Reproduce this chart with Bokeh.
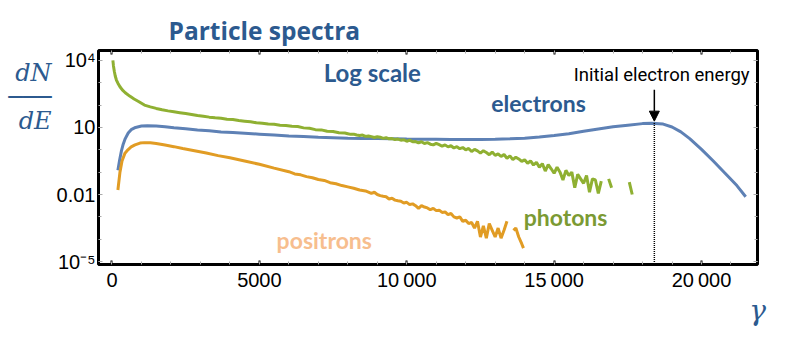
import math
from bokeh.plotting import figure
from bokeh.models import (Range1d, FixedTicker, CustomJSTickFormatter, Label, Arrow,
                          NormalHead, LinearAxis, LogAxis)
from bokeh.embed import file_html
from bokeh.resources import INLINE

NaN = float("nan")

# ---------------- data (log10 of dN/dE) ----------------
electron_gamma = [200, 260, 320, 380, 450, 550, 650, 800, 1000, 1200,
                  1500, 1800, 2100, 2500, 2900, 3300, 3700, 4100, 4500, 5000,
                  5500, 6000, 6500, 7000, 7500, 8000, 8500, 9000, 9500, 10000,
                  10500, 11000, 11500, 12000, 12500, 13000, 13500, 14000, 14500, 15000,
                  15500, 16000, 16500, 17000, 17500, 18000, 18300, 18700, 19000, 19300,
                  19600, 20000, 20400, 20800, 21200, 21500]
electron_log10 = [-0.92, -0.45, -0.05, 0.25, 0.5, 0.75, 0.9, 1.0, 1.06, 1.08,
                  1.06, 1.03, 0.99, 0.94, 0.89, 0.85, 0.8, 0.77, 0.74, 0.7,
                  0.66, 0.62, 0.59, 0.56, 0.54, 0.52, 0.51, 0.5, 0.49, 0.48,
                  0.475, 0.47, 0.465, 0.46, 0.465, 0.47, 0.49, 0.52, 0.57, 0.64,
                  0.72, 0.83, 0.93, 1.03, 1.1, 1.17, 1.19, 1.15, 1.02, 0.8,
                  0.5, 0.02, -0.5, -1.05, -1.6, -2.1]

photon_gamma = [30, 50, 80, 110, 150, 200, 270, 350, 450, 600,
                750, 900, 1100, 1300, 1500, 1700, 1900, 2100, 2300, 2500,
                2700, 2900, 3100, 3300, 3500, 3700, 3900, 4100, 4300, 4500,
                4700, 4900, 5100, 5300, 5500, 5700, 5900, 6100, 6300, 6500,
                6700, 6900, 7100, 7300, 7500, 7700, 7900,
                8000, 8100, 8200, 8300, 8400, 8500, 8600, 8700, 8800, 8900,
                9000, 9100, 9200, 9300, 9400, 9500, 9600, 9700, 9800, 9900,
                10000, 10100, 10200, 10300, 10400, 10500, 10600, 10700, 10800, 10900,
                11000, 11100, 11200, 11300, 11400, 11500, 11600, 11700, 11800, 11900,
                12000, 12100, 12200, 12300, 12400, 12500, 12600, 12700, 12800, 12900,
                13000, 13100, 13200, 13300, 13400, 13500, 13600, 13700, 13800, 13900,
                14000, 14100, 14200, 14300, 14400, 14500, 14600, 14700, 14800, 14900,
                15000, 15100, 15200, 15300, 15400, 15500, 15600, 15700, 15800, 15900,
                16000, 16100, 16200, 16300, 16400, 16500, 16600,
                16700, 16850, 16950, 17050, 17550, 17650]
photon_log10 = [4.0, 3.75, 3.5, 3.3, 3.12, 2.98, 2.82, 2.68, 2.55, 2.4,
                2.27, 2.16, 2.0, 1.92, 1.85, 1.79, 1.74, 1.7, 1.66, 1.62,
                1.58, 1.53, 1.5, 1.46, 1.43, 1.41, 1.37, 1.35, 1.31, 1.28,
                1.25, 1.21, 1.19, 1.15, 1.14, 1.1, 1.09, 1.05, 1.04, 0.98,
                0.96, 0.9, 0.89, 0.83, 0.82, 0.76, 0.75,
                0.72, 0.69, 0.70, 0.66, 0.64, 0.66, 0.60, 0.62, 0.59, 0.55,
                0.58, 0.56, 0.51, 0.54, 0.49, 0.50, 0.46, 0.48, 0.43, 0.45,
                0.38, 0.43, 0.36, 0.37, 0.31, 0.36, 0.28, 0.32, 0.25, 0.22,
                0.29, 0.23, 0.16, 0.22, 0.13, 0.18, 0.08, 0.14, 0.05, 0.10,
                0.0, 0.06, -0.08, 0.02, -0.05, -0.15, -0.04, -0.12, -0.22, -0.10,
                -0.25, -0.18, -0.30, -0.21, -0.38, -0.27, -0.44, -0.33, -0.41, -0.52,
                -0.45, -0.60, -0.50, -0.68, -0.56, -0.78, -0.62, -0.95, -0.66, -0.85,
                -1.05, -0.78, -1.0, -1.35, -0.92, -1.15, -1.0, -1.7, -1.1, -1.3,
                -1.5, -1.15, -1.9, -1.3, -1.35, -1.95, -1.4,
                NaN, -1.3, -1.7, NaN, -1.45, -2.0]

positron_gamma = [200, 270, 340, 440, 540, 650, 780, 950, 1100, 1300,
                  1500, 1800, 2100, 2400, 2800, 3200, 3600, 4000, 4500, 5000,
                  5500, 6000, 6200, 6400, 6600, 6800, 7000, 7200, 7400, 7600,
                  7800, 8000, 8200, 8400, 8600, 8800, 8900, 9000, 9100, 9200,
                  9300, 9400, 9500, 9600, 9700, 9800, 9900, 10000, 10100, 10200,
                  10300, 10400, 10500, 10600, 10700, 10800, 10900, 11000, 11100, 11200,
                  11300, 11400, 11500, 11600, 11700, 11800, 11900, 12000, 12100, 12200,
                  12300, 12400, 12500, 12600, 12700, 12800, 12900, 13000, 13100, 13200,
                  13300, 13400, 13500, 13620, 13700, 13800, 13900, 13960]
positron_log10 = [-1.8, -1.0, -0.5, -0.15, 0.0, 0.13, 0.22, 0.3, 0.32, 0.31,
                  0.28, 0.21, 0.14, 0.06, -0.04, -0.14, -0.26, -0.36, -0.5, -0.65,
                  -0.82, -0.98, -1.08, -1.12, -1.2, -1.25, -1.33, -1.37, -1.47, -1.52,
                  -1.6, -1.66, -1.72, -1.8, -1.84, -1.95, -1.9, -2.0, -2.05, -2.08,
                  -2.1, -2.2, -2.17, -2.25, -2.28, -2.3, -2.38, -2.35, -2.45, -2.42,
                  -2.5, -2.62, -2.5, -2.56, -2.6, -2.68, -2.62, -2.72, -2.7, -2.8,
                  -2.78, -2.9, -2.85, -3.0, -3.05, -3.0, -3.2, -3.15, -3.3, -3.25,
                  -3.5, -3.2, -3.9, -3.4, -3.95, -3.3, -3.6, -3.9, -3.5, -3.95,
                  -3.6, -3.2, NaN, -3.6, -3.5, -3.9, -4.2, -4.4]

initial_energy = 18400          # gamma of the initial electron energy marker
arrow_from_to = [10 ** 2.68, 10 ** 1.28]

x_ticks = [0, 5000, 10000, 15000, 20000]
x_tick_labels = ["0", "5000", "10\u2009000", "15\u2009000", "20\u2009000"]
x_minor = list(range(0, 22000, 1000))
y_ticks = [1e-5, 1e-2, 10, 1e4]
y_tick_labels = ["10\u207b\u2075", "0.01", "10", "10\u2074"]
y_minor = [10.0 ** k for k in range(-5, 5)]

BLUE = "#5E81B5"
ORANGE = "#E19C24"
GREEN = "#8FB032"
TXT_BLUE = "#2C5A8F"

def pw(vals):
    return [10 ** v for v in vals]

p = figure(width=781, height=329, output_backend="svg", toolbar_location=None,
           y_axis_type="log",
           x_range=Range1d(-458, 21900), y_range=Range1d(10 ** -5.13, 10 ** 4.44),
           min_border_left=98, min_border_right=24, min_border_top=50, min_border_bottom=60)
p.outline_line_color = "black"
p.outline_line_width = 3
p.outline_line_alpha = 1
p.xgrid.visible = False
p.ygrid.visible = False
p.background_fill_color = "white"
p.border_fill_color = "white"

# title
p.title.text = "Particle spectra"
p.title.align = "left"
p.title.offset = 70
p.title.text_font = "Open Sans"
p.title.text_font_style = "bold"
p.title.text_font_size = "24.5px"
p.title.text_color = TXT_BLUE
p.title.standoff = 8

xfmt = CustomJSTickFormatter(args=dict(xvals=x_ticks, xlabs=x_tick_labels), code="""
const i = xvals.indexOf(Math.round(tick)); return i >= 0 ? xlabs[i] : "";""")
yfmt = CustomJSTickFormatter(args=dict(yexps=[round(math.log10(t)) for t in y_ticks],
                                       ylabs=y_tick_labels), code="""
const i = yexps.indexOf(Math.round(Math.log10(tick))); return i >= 0 ? ylabs[i] : "";""")

def style_axis(ax, show_labels):
    ax.axis_line_color = None
    ax.major_tick_out = 0
    ax.major_tick_in = 4
    ax.minor_tick_out = 0
    ax.minor_tick_in = 3
    ax.major_tick_line_color = "black"
    ax.major_tick_line_width = 2
    ax.minor_tick_line_color = "#aaaaaa"
    ax.minor_tick_line_width = 1
    ax.major_label_text_font = "Liberation Sans"
    ax.major_label_text_font_size = "20px"
    ax.major_label_text_color = "black"
    if not show_labels:
        ax.major_label_text_alpha = 0
        ax.major_label_text_font_size = "1px"

xa = p.xaxis[0]
xa.ticker = FixedTicker(ticks=x_ticks, minor_ticks=x_minor)
xa.formatter = xfmt
style_axis(xa, True)
xa.major_label_standoff = 4
# gamma symbol at the right end below the axis
xa.axis_label = "\u03b3"
xa.axis_label_text_font = "DejaVu Serif"
xa.axis_label_text_font_style = "italic"
xa.axis_label_text_font_size = "28px"
xa.axis_label_text_color = TXT_BLUE
xa.axis_label_standoff = 0
try:
    xa.axis_label_text_line_height = 0.9
    xa.axis_label_align = "end"
except Exception:
    pass

ya = p.yaxis[0]
ya.ticker = FixedTicker(ticks=y_ticks, minor_ticks=y_minor)
ya.formatter = yfmt
style_axis(ya, True)
ya.major_label_standoff = 3
ya.major_tick_line_color = "#aaaaaa"
ya.major_tick_line_width = 1
# dN/dE as a horizontal, stacked axis title (blank lines shift it upwards)
ya.axis_label = "dN\n\u2500\u2500\u2500\ndE\n \n \n \n \n "
ya.axis_label_text_font = "DejaVu Serif"
ya.axis_label_text_font_style = "italic"
ya.axis_label_text_font_size = "24px"
ya.axis_label_text_color = TXT_BLUE
ya.axis_label_standoff = 2
try:
    ya.axis_label_text_line_height = 0.86
    ya.axis_label_orientation = "horizontal"
    ya.axis_label_align = "center"
except Exception:
    pass

top = LinearAxis(ticker=FixedTicker(ticks=x_ticks, minor_ticks=x_minor))
style_axis(top, False)
p.add_layout(top, "above")
right = LogAxis(ticker=FixedTicker(ticks=y_ticks, minor_ticks=y_minor))
style_axis(right, False)
right.major_tick_line_color = "#aaaaaa"
right.major_tick_line_width = 1
p.add_layout(right, "right")

p.line(electron_gamma, pw(electron_log10), line_color=BLUE, line_width=3)
p.line(positron_gamma, pw(positron_log10), line_color=ORANGE, line_width=3)
p.line(photon_gamma, pw(photon_log10), line_color=GREEN, line_width=3)

# initial electron energy marker
p.segment(x0=[initial_energy], y0=[10 ** 1.2], x1=[initial_energy], y1=[10 ** -5.13],
          line_color="black", line_width=1.5, line_dash="1 1")
p.add_layout(Arrow(end=NormalHead(size=10, fill_color="black", line_color="black"),
                   x_start=initial_energy, y_start=arrow_from_to[0],
                   x_end=initial_energy, y_end=arrow_from_to[1],
                   line_color="black", line_width=1.5))

def lab(x, y, text, color, size, font="Lato", style="bold", align="center"):
    p.add_layout(Label(x=x, y=y, text=text, text_color=color, text_font_size=size,
                       text_font=font, text_font_style=style, text_align=align,
                       text_baseline="alphabetic"))

lab(8832, 10 ** 3.45, "Log scale", TXT_BLUE, "24px")
lab(14471, 10 ** 2.1, "electrons", TXT_BLUE, "23px")
lab(15388, 10 ** -3.01, "photons", "#7B9A33", "23px")
lab(7202, 10 ** -4.02, "positrons", "#F7BE8E", "23px")
lab(18650, 10 ** 3.36, "Initial electron energy", "black", "18.5px",
    font="Roboto", style="normal")

open("out.html", "w").write(file_html(p, INLINE))
